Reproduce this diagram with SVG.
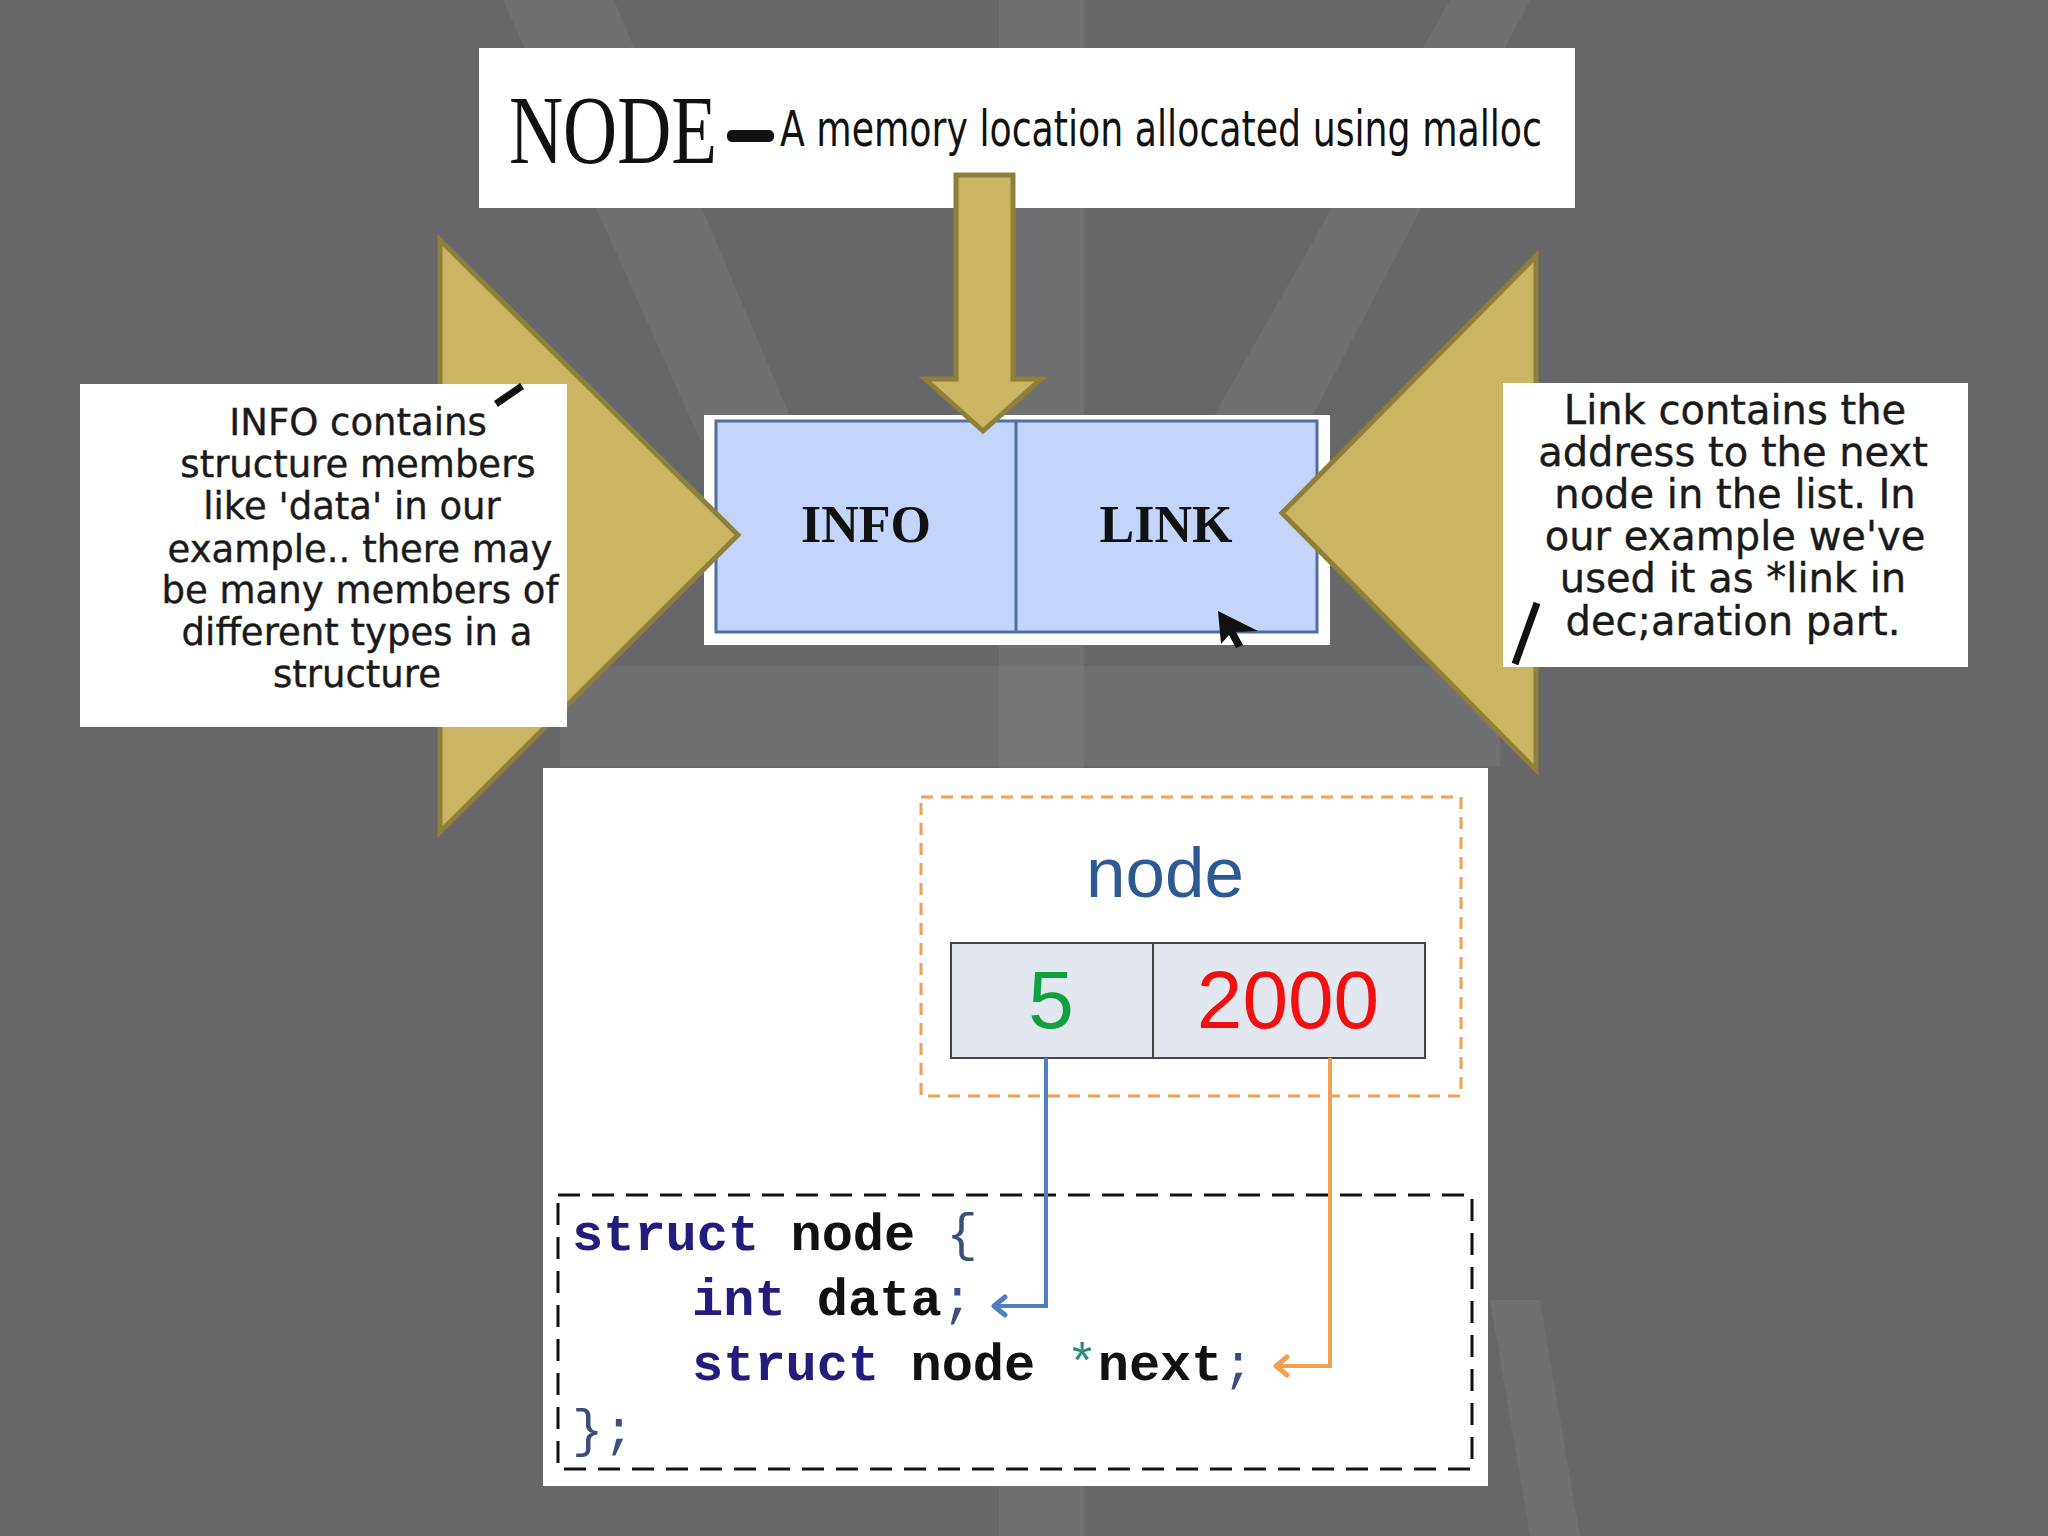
<svg xmlns="http://www.w3.org/2000/svg" width="2048" height="1536" viewBox="0 0 2048 1536">
<defs>
<style>
.callout{font-family:"DejaVu Sans",sans-serif;fill:#1a1a1a;text-anchor:middle;stroke:#1a1a1a;stroke-width:0.4}
.cl{font-size:37px}
.cr{font-size:40px}
.gold{fill:#C9B562;stroke:#8E7F3A;stroke-width:5;stroke-linejoin:miter}
.code{font-family:"Liberation Mono","DejaVu Sans Mono",monospace;font-size:52px;font-weight:bold}
.kw{fill:#231C7C}
.id{fill:#111}
.pn{fill:#3A4F7E;font-weight:normal}
.cell{font-family:"Liberation Sans",Arial,sans-serif;font-size:82px;text-anchor:middle}
.band{fill:#8a8a8a;opacity:0.28}
</style>
<marker id="ahBlue" viewBox="0 0 24 24" refX="21" refY="12" markerWidth="24" markerHeight="24" markerUnits="userSpaceOnUse" orient="auto"><path d="M10,3 L21,12 L10,21" fill="none" stroke="#4F7FC0" stroke-width="5" stroke-linejoin="round" stroke-linecap="round"/></marker>
<marker id="ahOrange" viewBox="0 0 24 24" refX="21" refY="12" markerWidth="24" markerHeight="24" markerUnits="userSpaceOnUse" orient="auto"><path d="M10,3 L21,12 L10,21" fill="none" stroke="#F0A050" stroke-width="5" stroke-linejoin="round" stroke-linecap="round"/></marker>
</defs>
<rect x="0" y="0" width="2048" height="1536" fill="#676668"/>
<g id="background">
<polygon class="band" points="503,0 614,0 800,440 700,440"/>
<rect class="band" x="999" y="0" width="85" height="1536"/>
<polygon class="band" points="1450,0 1530,0 1300,440 1200,440"/>
<rect class="band" x="560" y="666" width="940" height="100"/>
<polygon class="band" points="1490,1300 1540,1300 1580,1536 1530,1536" opacity="0.15"/>
</g>

<g id="title-box">
<rect x="479" y="48" width="1096" height="160" fill="#fff"/>
<text x="509" y="163" font-family="Liberation Serif,serif" font-size="98" textLength="208" lengthAdjust="spacingAndGlyphs" fill="#111">NODE</text>
<rect x="727" y="130" width="47" height="12" rx="5" fill="#111"/>
<text x="780" y="146" font-family="DejaVu Sans Condensed,DejaVu Sans,sans-serif" font-size="50" textLength="762" lengthAdjust="spacingAndGlyphs" fill="#111">A memory location allocated using malloc</text>
</g>

<g id="node-box">
<rect x="704" y="415" width="626" height="230" fill="#fff"/>
<rect x="716" y="421" width="601" height="211" fill="#C3D5FA" stroke="#4E6FA0" stroke-width="3"/>
<line x1="1016" y1="421" x2="1016" y2="632" stroke="#4E6FA0" stroke-width="3"/>
<text x="866" y="542" font-family="Liberation Serif,serif" font-weight="bold" font-size="52" fill="#111" text-anchor="middle">INFO</text>
<text x="1166" y="542" font-family="Liberation Serif,serif" font-weight="bold" font-size="52" fill="#111" text-anchor="middle">LINK</text>
<path d="M1218,611 L1221,644 L1229,635 L1236,648 L1243,645 L1236,632 L1258,631 Z" fill="#111"/>
</g>

<g id="arrow-down">
<polygon class="gold" points="956,175 1013,175 1013,379 1041,379 983,431 925,379 956,379"/>
</g>
<g id="arrow-left-triangle">
<polygon class="gold" points="440,240 738,535 440,832"/>
</g>
<g id="arrow-right-triangle">
<polygon class="gold" points="1536,256 1282,513 1536,770"/>
</g>

<g id="info-callout">
<rect x="80" y="384" width="487" height="343" fill="#fff"/>
<path d="M496,404 L522,386" stroke="#111" stroke-width="7"/>
<text class="callout cl" x="358" y="435">INFO contains</text>
<text class="callout cl" x="358" y="477">structure members</text>
<text class="callout cl" x="352" y="519">like 'data' in our</text>
<text class="callout cl" x="360" y="562">example.. there may</text>
<text class="callout cl" x="360" y="603">be many members of</text>
<text class="callout cl" x="357" y="645">different types in a</text>
<text class="callout cl" x="357" y="687">structure</text>
</g>

<g id="link-callout">
<rect x="1503" y="383" width="465" height="284" fill="#fff"/>
<path d="M1537,603 L1515,664" stroke="#111" stroke-width="7"/>
<text class="callout cr" x="1735" y="424">Link contains the</text>
<text class="callout cr" x="1733" y="466">address to the next</text>
<text class="callout cr" x="1735" y="508">node in the list. In</text>
<text class="callout cr" x="1735" y="550">our example we've</text>
<text class="callout cr" x="1733" y="592">used it as *link in</text>
<text class="callout cr" x="1733" y="635">dec;aration part.</text>
</g>

<g id="bottom-panel">
<rect x="543" y="768" width="945" height="718" fill="#fff"/>
<rect x="921" y="797" width="540" height="299" fill="none" stroke="#F0A050" stroke-width="3" stroke-dasharray="12,8"/>
<text x="1165" y="897" font-family="Liberation Sans,Arial,sans-serif" font-size="71" fill="#2E5A94" text-anchor="middle">node</text>
<g id="node-cells">
<rect x="951" y="943" width="474" height="115" fill="#E3E7EF" stroke="#444" stroke-width="2"/>
<line x1="1153" y1="943" x2="1153" y2="1058" stroke="#444" stroke-width="2"/>
<text class="cell" x="1051" y="1028" fill="#10A040">5</text>
<text class="cell" x="1288" y="1028" fill="#F01010">2000</text>
</g>
<rect id="code-box" x="558" y="1195" width="914" height="274" fill="none" stroke="#111" stroke-width="3" stroke-dasharray="22,12"/>
<g id="code">
<text class="code" x="572" y="1250"><tspan class="kw">struct</tspan><tspan class="id"> node </tspan><tspan class="pn">{</tspan></text>
<text class="code" x="692" y="1315"><tspan class="kw">int</tspan><tspan class="id"> data</tspan><tspan class="pn">;</tspan></text>
<text class="code" x="692" y="1380"><tspan class="kw">struct</tspan><tspan class="id"> node </tspan><tspan fill="#2A8A80" font-weight="normal">*</tspan><tspan class="id">next</tspan><tspan class="pn">;</tspan></text>
<text class="code" x="572" y="1446"><tspan class="pn">};</tspan></text>
</g>
</g>

<g id="connectors">
<path d="M1046,1058 L1046,1306 L994,1306" fill="none" stroke="#4F7FC0" stroke-width="4" marker-end="url(#ahBlue)"/>
<path d="M1330,1058 L1330,1366 L1276,1366" fill="none" stroke="#F0A050" stroke-width="4" marker-end="url(#ahOrange)"/>
</g>
</svg>
